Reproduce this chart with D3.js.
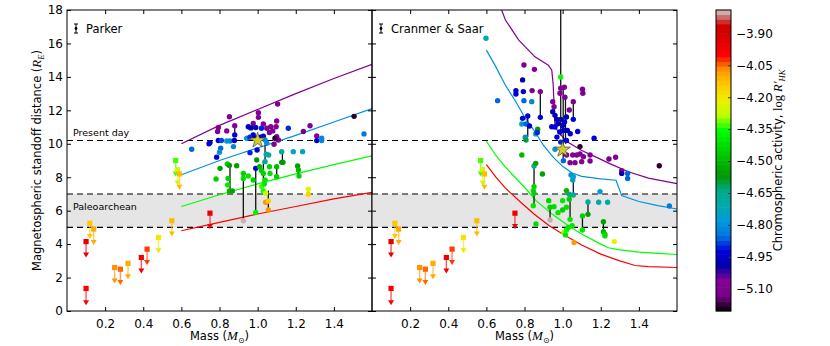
<!DOCTYPE html>
<html>
<head>
<meta charset="utf-8">
<script src="https://cdn.jsdelivr.net/npm/d3@7"></script>
<style>
  body { margin: 0; background: #fff; }
  text { font-family: "DejaVu Sans", sans-serif; }
</style>
</head>
<body>
<svg id="chart" width="830" height="346"></svg>
<script>
// ---- data ----
const massTicks = [0.2, 0.4, 0.6, 0.8, 1.0, 1.2, 1.4];
const distTicks = [0, 2, 4, 6, 8, 10, 12, 14, 16, 18];
const rhkTicks = [-3.90, -4.05, -4.20, -4.35, -4.50, -4.65, -4.80, -4.95, -5.10];

const presentDay = 10.2;
const paleoarchean = [5, 7];

// colour level of each model curve (purple, blue, green, red)
const curveLevels = [-5.1, -4.8, -4.36, -4.0];

const parkerCurves = [
  [[0.6, 10.0], [0.8, 11.1], [1.0, 12.05], [1.2, 13.0], [1.4, 13.9], [1.6, 14.75]],
  [[0.6, 8.15], [0.8, 9.0], [1.0, 9.75], [1.2, 10.5], [1.4, 11.3], [1.6, 12.1]],
  [[0.6, 6.25], [0.8, 6.95], [1.0, 7.6], [1.2, 8.2], [1.4, 8.75], [1.6, 9.28]],
  [[0.6, 4.8], [0.8, 5.3], [1.0, 5.8], [1.2, 6.25], [1.4, 6.7], [1.6, 7.1]]
];

const cranmerCurves = [
  [[0.68, 18.0], [0.7, 17.4], [0.77, 16.2], [0.855, 15.2], [0.925, 14.7], [0.943, 14.4],
   [0.95, 13.6], [0.955, 12.4], [0.96, 11.0], [0.99, 10.55], [1.02, 10.15], [1.1, 9.6],
   [1.17, 9.23], [1.25, 8.8], [1.345, 8.33], [1.45, 7.95], [1.6, 7.62]],
  [[0.6, 15.6], [0.65, 14.6], [0.7, 13.5], [0.75, 12.6], [0.8, 11.6], [0.85, 10.8],
   [0.9, 9.9], [0.95, 9.2], [1.0, 8.65], [1.05, 8.25], [1.1, 8.05], [1.2, 7.9],
   [1.28, 7.82], [1.31, 6.9], [1.4, 6.55], [1.5, 6.3], [1.6, 6.1]],
  [[0.6, 10.15], [0.65, 9.3], [0.7, 8.6], [0.75, 8.0], [0.8, 7.4], [0.86, 6.6],
   [0.95, 5.75], [1.03, 5.1], [1.1, 4.6], [1.2, 4.0], [1.24, 3.78], [1.3, 3.65],
   [1.4, 3.52], [1.5, 3.45], [1.6, 3.38]],
  [[0.6, 8.75], [0.65, 8.0], [0.7, 7.35], [0.78, 6.5], [0.85, 5.8], [0.93, 5.1],
   [1.0, 4.6], [1.1, 3.95], [1.2, 3.4], [1.3, 3.0], [1.38, 2.72], [1.45, 2.65], [1.6, 2.6]]
];

// [mass, logR'HK, standoff]
const parkerStars = [
  [0.654, -4.86, 9.67], [0.75, -4.97, 10.07], [0.745, -4.93, 10.0], [0.794, -5.08, 10.98],
  [0.79, -5.06, 10.73], [0.852, -5.08, 11.62], [0.838, -5.08, 10.77], [0.88, -5.08, 11.08],
  [0.88, -4.93, 10.53], [0.794, -4.93, 10.2], [0.81, -4.88, 10.2], [0.838, -4.79, 10.17],
  [0.855, -4.82, 10.17], [0.878, -4.97, 10.2], [0.806, -4.86, 9.73], [0.8, -4.79, 9.49],
  [0.785, -4.93, 9.2], [0.873, -4.82, 9.83],
  [1.004, -5.08, 11.86], [1.004, -5.08, 11.58], [0.977, -5.08, 11.22], [1.03, -5.08, 11.18],
  [0.951, -4.95, 11.02], [0.965, -4.99, 10.95], [0.99, -4.95, 10.97], [1.02, -4.9, 10.93],
  [1.048, -5.08, 10.93], [1.069, -5.1, 11.02], [1.097, -5.08, 11.02], [1.1, -5.08, 11.36],
  [1.079, -5.06, 10.77], [1.062, -5.08, 10.67], [1.1, -5.08, 10.43], [1.109, -5.06, 10.23],
  [1.086, -5.08, 9.97], [0.977, -4.95, 10.53], [0.943, -4.79, 10.33], [0.96, -4.9, 10.4],
  [0.985, -4.97, 10.35], [1.015, -4.95, 10.4], [1.03, -4.93, 10.45], [1.039, -4.79, 10.23],
  [1.048, -4.8, 10.03], [0.997, -4.93, 9.63], [0.96, -4.9, 9.47], [1.091, -5.18, 10.33],
  [1.161, -4.9, 10.93], [1.24, -5.13, 10.73], [1.275, -5.08, 11.08], [1.31, -5.08, 10.47],
  [1.31, -4.97, 10.19], [1.336, -4.82, 10.33], [1.336, -4.82, 10.19], [1.506, -5.18, 11.64],
  [1.558, -4.84, 10.59], [1.105, -5.08, 12.38],
  [1.187, -4.73, 9.53], [1.236, -4.73, 9.53], [1.126, -4.68, 9.53], [1.045, -4.7, 9.37],
  [1.058, -4.7, 9.33], [1.039, -4.68, 8.93],
  [1.126, -4.55, 8.89], [0.803, -4.55, 8.53], [0.782, -4.45, 7.89], [0.841, -4.45, 8.79],
  [0.852, -4.55, 8.7], [0.843, -4.4, 7.54], [0.852, -4.5, 7.18], [0.867, -4.55, 7.18],
  [0.845, -4.45, 7.93], [0.89, -4.55, 8.69], [0.925, -4.45, 8.23], [0.925, -4.42, 7.93],
  [0.925, -3.8, 5.4], [0.951, -4.4, 8.07], [0.977, -4.45, 7.83], [0.99, -4.93, 8.53],
  [0.99, -4.38, 5.9], [0.995, -4.57, 9.03], [1.01, -4.5, 8.63], [1.02, -4.45, 8.4],
  [1.03, -4.45, 8.23], [1.039, -4.4, 7.83], [1.021, -4.33, 7.44], [1.03, -4.35, 7.18],
  [1.042, -4.28, 7.04], [1.035, -4.4, 7.6], [1.042, -4.07, 6.5], [1.056, -4.07, 6.04],
  [1.056, -4.14, 6.58], [1.062, -4.45, 8.63], [1.065, -4.42, 8.23], [1.1, -4.5, 8.63],
  [1.1, -4.45, 8.03], [1.133, -4.57, 8.89], [1.21, -4.55, 8.67], [1.214, -4.5, 8.43],
  [1.217, -4.45, 8.07], [1.266, -4.23, 7.28], [1.266, -4.16, 6.98]
];

// [mass, low, high] : black bars joining two estimates of one star
const parkerSpans = [
  [0.88, 10.53, 11.08], [0.855, 7.18, 8.7], [0.925, 5.4, 8.23], [0.99, 5.9, 8.53],
  [1.03, 7.5, 9.0], [1.056, 6.04, 7.2], [1.039, 8.93, 9.93], [1.1, 8.03, 8.63],
  [1.13, 8.89, 9.53], [1.214, 8.07, 8.67]
];

const cranmerStars = [
  [0.598, -4.72, 16.31], [0.659, -4.86, 12.58], [0.797, -5.08, 14.71], [0.852, -5.08, 14.45],
  [0.79, -4.99, 13.82], [0.755, -4.93, 13.18], [0.755, -4.93, 12.98], [0.794, -4.93, 13.12],
  [0.84, -5.1, 13.18], [0.883, -5.08, 13.12], [0.883, -4.93, 11.58], [0.797, -4.86, 12.58],
  [0.838, -4.82, 12.52], [0.79, -4.93, 11.52], [0.817, -4.93, 11.66], [0.786, -4.73, 11.18],
  [0.808, -4.86, 11.18], [0.826, -4.93, 11.06], [0.804, -4.79, 10.39], [0.808, -4.6, 10.23],
  [0.869, -4.55, 10.87], [0.859, -4.79, 10.59], [0.867, -4.9, 10.67], [0.786, -4.5, 9.33],
  [0.99, -4.36, 14.0], [0.948, -5.08, 12.52], [0.955, -5.06, 12.22], [0.948, -4.99, 11.92],
  [0.96, -4.97, 11.7], [0.969, -4.99, 11.46], [0.943, -4.93, 11.02], [0.96, -4.93, 11.0],
  [0.975, -4.97, 11.2], [0.99, -4.99, 11.46], [1.0, -4.97, 11.1], [1.01, -4.95, 11.3],
  [1.02, -4.99, 11.6], [0.985, -4.93, 10.7], [1.005, -4.95, 10.8], [1.025, -4.97, 10.8],
  [0.97, -4.93, 10.4], [0.99, -4.9, 10.1], [1.02, -4.93, 10.2], [1.04, -4.93, 10.6],
  [0.99, -5.08, 13.32], [1.009, -5.08, 13.38], [0.986, -5.08, 13.02], [1.012, -5.06, 12.78],
  [1.035, -5.08, 12.02], [1.104, -5.08, 13.26], [1.106, -5.08, 13.02], [1.056, -5.08, 12.52],
  [1.056, -4.93, 11.46], [1.079, -4.93, 10.73], [1.165, -4.93, 10.33], [0.96, -4.79, 9.67],
  [1.091, -5.18, 9.83], [1.021, -5.08, 9.33], [1.039, -5.08, 8.87], [1.053, -5.06, 9.33],
  [1.074, -5.08, 9.33], [1.091, -5.08, 9.39], [1.109, -5.08, 9.23], [1.144, -5.08, 9.33],
  [1.1, -5.08, 8.93], [1.144, -5.08, 8.97], [1.065, -5.06, 8.87], [1.004, -4.86, 8.99],
  [1.243, -5.13, 9.09], [1.278, -5.08, 9.19], [1.31, -5.08, 8.39], [1.31, -4.97, 8.23],
  [1.341, -4.86, 8.23], [1.341, -4.86, 7.93], [1.507, -5.18, 8.69], [1.56, -4.84, 6.28],
  [1.196, -4.76, 7.14], [1.189, -4.7, 6.5], [1.236, -4.7, 6.5], [1.133, -4.68, 6.52],
  [1.133, -4.55, 5.78], [1.044, -4.79, 8.13], [1.056, -4.76, 8.03], [1.053, -4.75, 7.83],
  [1.056, -4.68, 6.94], [1.035, -4.66, 6.98], [1.02, -4.5, 7.2], [1.035, -4.45, 6.68],
  [1.0, -4.4, 6.6], [0.85, -4.7, 8.67], [0.859, -4.55, 8.83], [0.85, -4.45, 7.44],
  [0.846, -4.42, 7.2], [0.85, -4.45, 7.04], [0.846, -4.4, 6.3], [0.894, -4.55, 8.19],
  [0.927, -4.45, 6.6], [0.955, -4.42, 6.24], [0.934, -4.45, 6.2], [0.934, -3.8, 5.44],
  [0.976, -4.4, 5.88], [1.0, -4.45, 6.04], [1.02, -4.42, 6.2], [1.039, -4.4, 5.48],
  [1.007, -4.3, 4.69], [1.015, -4.4, 4.55], [1.02, -4.36, 4.85], [1.03, -4.4, 5.0],
  [1.06, -4.08, 4.09], [1.05, -4.4, 5.1], [1.104, -4.45, 5.68], [1.104, -4.4, 4.84],
  [1.214, -4.55, 5.34], [1.214, -4.5, 4.74], [1.222, -4.45, 4.6], [1.222, -4.42, 4.49],
  [1.271, -4.22, 4.15], [0.86, -4.42, 5.2]
];

const cranmerSpans = [
  [0.99, 14.0, 19.0], [0.99, 10.5, 14.0], [1.003, 9.0, 13.4], [1.015, 10.0, 12.8],
  [0.883, 11.58, 13.12], [0.817, 10.4, 11.66], [1.056, 11.46, 12.52], [0.85, 6.3, 8.67],
  [0.934, 5.44, 6.2], [1.056, 6.94, 8.03], [1.039, 5.48, 6.98], [1.133, 5.78, 6.52],
  [1.104, 4.84, 5.68], [1.214, 4.74, 5.34]
];

// M dwarf upper limits [mass, logR'HK, marker, arrow tip]
const mDwarfs = [
  [0.1, -3.95, 4.15, 3.2], [0.1, -4.0, 1.35, 0.35], [0.12, -4.14, 5.25, 4.3],
  [0.14, -4.1, 4.9, 3.95], [0.25, -4.07, 2.6, 1.65], [0.28, -4.05, 2.5, 1.55],
  [0.32, -4.1, 2.85, 1.9], [0.39, -3.97, 3.2, 2.25], [0.42, -4.03, 3.7, 2.75],
  [0.48, -4.2, 4.4, 3.45], [0.55, -4.12, 5.4, 4.45], [0.57, -4.33, 9.0, 8.05],
  [0.58, -4.25, 8.45, 7.5], [0.59, -4.12, 8.2, 7.25], [0.75, -3.97, 5.85, 4.9]
];

const sunParker = [1.0, 10.2];
const sunCranmer = [1.0, 9.65];

// nipy_spectral colormap stops
const spectralStops = [
  "#000000", "#780088", "#880099", "#0000aa", "#0000dd", "#0077dd", "#0099dd",
  "#00aaaa", "#00aa88", "#009900", "#00bb00", "#00dd00", "#00ff00", "#bbff00",
  "#eeee00", "#ffcc00", "#ff9900", "#ff0000", "#dd0000", "#cc0000", "#cccccc"
];

function drawChart() {
  const svg = d3.select("#chart");
  const top = 10, bottom = 311;
  const rhkMin = -5.205, rhkMax = -3.79;

  const y = d3.scaleLinear().domain([0, 18]).range([bottom, top]);
  const spectral = d3.scaleLinear()
    .domain(spectralStops.map((d, i) => i / (spectralStops.length - 1)))
    .range(spectralStops)
    .clamp(true);
  const color = (v) => spectral((v - rhkMin) / (rhkMax - rhkMin));

  function drawPanel(left, right, curves, stars, spans, sun, title, id, yLabels) {
    const x = d3.scaleLinear().domain([0, 1.6]).range([left, right]);
    svg.append("clipPath").attr("id", id)
      .append("rect").attr("x", left).attr("y", top)
      .attr("width", right - left).attr("height", bottom - top);

    const g = svg.append("g").attr("clip-path", `url(#${id})`);

    // paleoarchean band
    g.append("rect")
      .attr("x", left).attr("width", right - left)
      .attr("y", y(paleoarchean[1]))
      .attr("height", y(paleoarchean[0]) - y(paleoarchean[1]))
      .attr("fill", "#e5e5e5");

    g.selectAll(".epoch")
      .data([presentDay, paleoarchean[1], paleoarchean[0]])
      .join("line")
      .attr("x1", left).attr("x2", right)
      .attr("y1", (d) => y(d)).attr("y2", (d) => y(d))
      .attr("stroke", "#000").attr("stroke-width", 1.1)
      .attr("stroke-dasharray", "6,4");

    const line = d3.line().x((d) => x(d[0])).y((d) => y(d[1]));
    g.selectAll(".curve")
      .data(curves)
      .join("path")
      .attr("fill", "none")
      .attr("stroke", (d, i) => color(curveLevels[i]))
      .attr("stroke-width", 1.2)
      .attr("d", line);

    g.selectAll(".span")
      .data(spans)
      .join("line")
      .attr("x1", (d) => x(d[0])).attr("x2", (d) => x(d[0]))
      .attr("y1", (d) => y(d[1])).attr("y2", (d) => y(d[2]))
      .attr("stroke", "#111").attr("stroke-width", 1.3);

    g.selectAll(".star")
      .data(stars)
      .join("circle")
      .attr("cx", (d) => x(d[0]))
      .attr("cy", (d) => y(d[2]))
      .attr("r", 2.7)
      .attr("fill", (d) => color(d[1]));

    // M dwarf upper limits
    const md = g.append("g");
    md.selectAll("line")
      .data(mDwarfs)
      .join("line")
      .attr("x1", (d) => x(d[0])).attr("x2", (d) => x(d[0]))
      .attr("y1", (d) => y(d[2])).attr("y2", (d) => y(d[3]) - 4)
      .attr("stroke", (d) => color(d[1]))
      .attr("stroke-opacity", 0.65)
      .attr("stroke-width", 1.4);
    md.selectAll("path")
      .data(mDwarfs)
      .join("path")
      .attr("d", (d) => {
        const cx = x(d[0]), ty = y(d[3]);
        return `M${cx - 3},${ty - 5}L${cx + 3},${ty - 5}L${cx},${ty}Z`;
      })
      .attr("fill", (d) => color(d[1]));
    md.selectAll("rect")
      .data(mDwarfs)
      .join("rect")
      .attr("x", (d) => x(d[0]) - 2.6)
      .attr("y", (d) => y(d[2]) - 2.6)
      .attr("width", 5.2).attr("height", 5.2)
      .attr("fill", (d) => color(d[1]));

    // the Sun
    g.append("path")
      .attr("d", d3.symbol(d3.symbolStar, 75)())
      .attr("transform", `translate(${x(sun[0])},${y(sun[1])})`)
      .attr("fill", "#d6cc24")
      .attr("stroke", "#444")
      .attr("stroke-width", 0.7);

    // axes (ticks inside)
    svg.append("g")
      .attr("transform", `translate(0,${bottom})`)
      .call(d3.axisBottom(x).tickValues(massTicks).tickSize(-4).tickPadding(8)
        .tickFormat(d3.format(".1f")))
      .call((a) => a.select(".domain").remove())
      .call((a) => a.selectAll("text").attr("font-size", 12).attr("fill", "#000")
        .attr("font-family", "DejaVu Sans"));
    svg.append("g")
      .attr("transform", `translate(0,${top})`)
      .call(d3.axisTop(x).tickValues(massTicks).tickSize(-4).tickFormat(""))
      .call((a) => a.select(".domain").remove());
    svg.append("g")
      .attr("transform", `translate(${left},0)`)
      .call(d3.axisLeft(y).tickValues(distTicks).tickSize(-4).tickPadding(4)
        .tickFormat(yLabels ? d3.format("d") : ""))
      .call((a) => a.select(".domain").remove())
      .call((a) => a.selectAll("text").attr("font-size", 12).attr("fill", "#000")
        .attr("font-family", "DejaVu Sans"));
    svg.append("g")
      .attr("transform", `translate(${right},0)`)
      .call(d3.axisRight(y).tickValues(distTicks).tickSize(-4).tickFormat(""))
      .call((a) => a.select(".domain").remove());

    svg.append("rect")
      .attr("x", left).attr("y", top)
      .attr("width", right - left).attr("height", bottom - top)
      .attr("fill", "none").attr("stroke", "#000").attr("stroke-width", 1);

    // x label
    const xl = svg.append("text")
      .attr("x", (left + right) / 2).attr("y", 340)
      .attr("text-anchor", "middle").attr("font-size", 11.5);
    xl.append("tspan").text("Mass (");
    xl.append("tspan").text("M").attr("font-family", "Liberation Serif")
      .attr("font-style", "italic").attr("font-size", 13);
    xl.append("tspan").text("⊙").attr("font-size", 8).attr("dy", 3);
    xl.append("tspan").text(")").attr("dy", -3);

    // model label with error-bar icon
    const ix = left + 9;
    svg.append("line").attr("x1", ix).attr("x2", ix).attr("y1", 24).attr("y2", 33)
      .attr("stroke", "#000").attr("stroke-width", 1);
    svg.selectAll(null).data([24, 33]).join("line")
      .attr("x1", ix - 2).attr("x2", ix + 2)
      .attr("y1", (d) => d).attr("y2", (d) => d)
      .attr("stroke", "#000").attr("stroke-width", 1);
    svg.append("circle").attr("cx", ix).attr("cy", 28.5).attr("r", 1.4).attr("fill", "#000");
    svg.append("text").attr("x", left + 19).attr("y", 32.5)
      .attr("font-size", 11.5).text(title);

    return x;
  }

  drawPanel(67, 372, parkerCurves, parkerStars, parkerSpans, sunParker, "Parker", "clipL", true);
  drawPanel(372, 677, cranmerCurves, cranmerStars, cranmerSpans, sunCranmer, "Cranmer & Saar", "clipR", false);

  // epoch labels
  svg.append("text").attr("x", 73).attr("y", y(presentDay) - 4)
    .attr("font-size", 9.5).text("Present day");
  svg.append("text").attr("x", 73).attr("y", y(6.05))
    .attr("font-size", 9.5).text("Paleoarchean");

  // y label
  const yl = svg.append("text")
    .attr("transform", `translate(40.5,${(top + bottom) / 2}) rotate(-90)`)
    .attr("text-anchor", "middle").attr("font-size", 11.5);
  yl.append("tspan").text("Magnetospheric standoff distance (");
  yl.append("tspan").text("R").attr("font-family", "Liberation Serif")
    .attr("font-style", "italic").attr("font-size", 13);
  yl.append("tspan").text("E").attr("font-family", "Liberation Serif")
    .attr("font-style", "italic").attr("font-size", 8.5).attr("dy", 3);
  yl.append("tspan").text(")").attr("dy", -3);

  // colorbar
  const cbX = 716, cbW = 15;
  const cy = d3.scaleLinear().domain([rhkMin, rhkMax]).range([bottom, top]);
  const nBands = 64;
  const bandVals = d3.range(nBands).map((i) => rhkMin + (i + 0.5) * (rhkMax - rhkMin) / nBands);
  const bandH = (bottom - top) / nBands;
  svg.append("g").selectAll("rect")
    .data(bandVals)
    .join("rect")
    .attr("x", cbX).attr("width", cbW)
    .attr("y", (d) => cy(d) - bandH / 2 - 0.3)
    .attr("height", bandH + 0.6)
    .attr("fill", (d) => color(d));
  svg.append("rect")
    .attr("x", cbX).attr("y", top).attr("width", cbW).attr("height", bottom - top)
    .attr("fill", "none").attr("stroke", "#000").attr("stroke-width", 1);
  svg.append("g")
    .attr("transform", `translate(${cbX + cbW},0)`)
    .call(d3.axisRight(cy).tickValues(rhkTicks).tickSize(-3).tickPadding(5)
      .tickFormat((d) => d3.format(".2f")(d).replace("-", "−")))
    .call((a) => a.select(".domain").remove())
    .call((a) => a.selectAll("line").attr("stroke", "#333"))
    .call((a) => a.selectAll("text").attr("font-size", 12).attr("fill", "#000")
      .attr("font-family", "DejaVu Sans"));

  const cl = svg.append("text")
    .attr("transform", `translate(781.5,${(top + bottom) / 2}) rotate(-90)`)
    .attr("text-anchor", "middle").attr("font-size", 11.5);
  cl.append("tspan").text("Chromospheric activity, ");
  cl.append("tspan").text("log").attr("font-family", "Liberation Serif").attr("font-size", 12.5);
  cl.append("tspan").text(" R′").attr("font-family", "Liberation Serif")
    .attr("font-style", "italic").attr("font-size", 12.5);
  cl.append("tspan").text("HK").attr("font-family", "Liberation Serif")
    .attr("font-style", "italic").attr("font-size", 8.5).attr("dy", 3);
}
drawChart();
</script>
</body>
</html>
